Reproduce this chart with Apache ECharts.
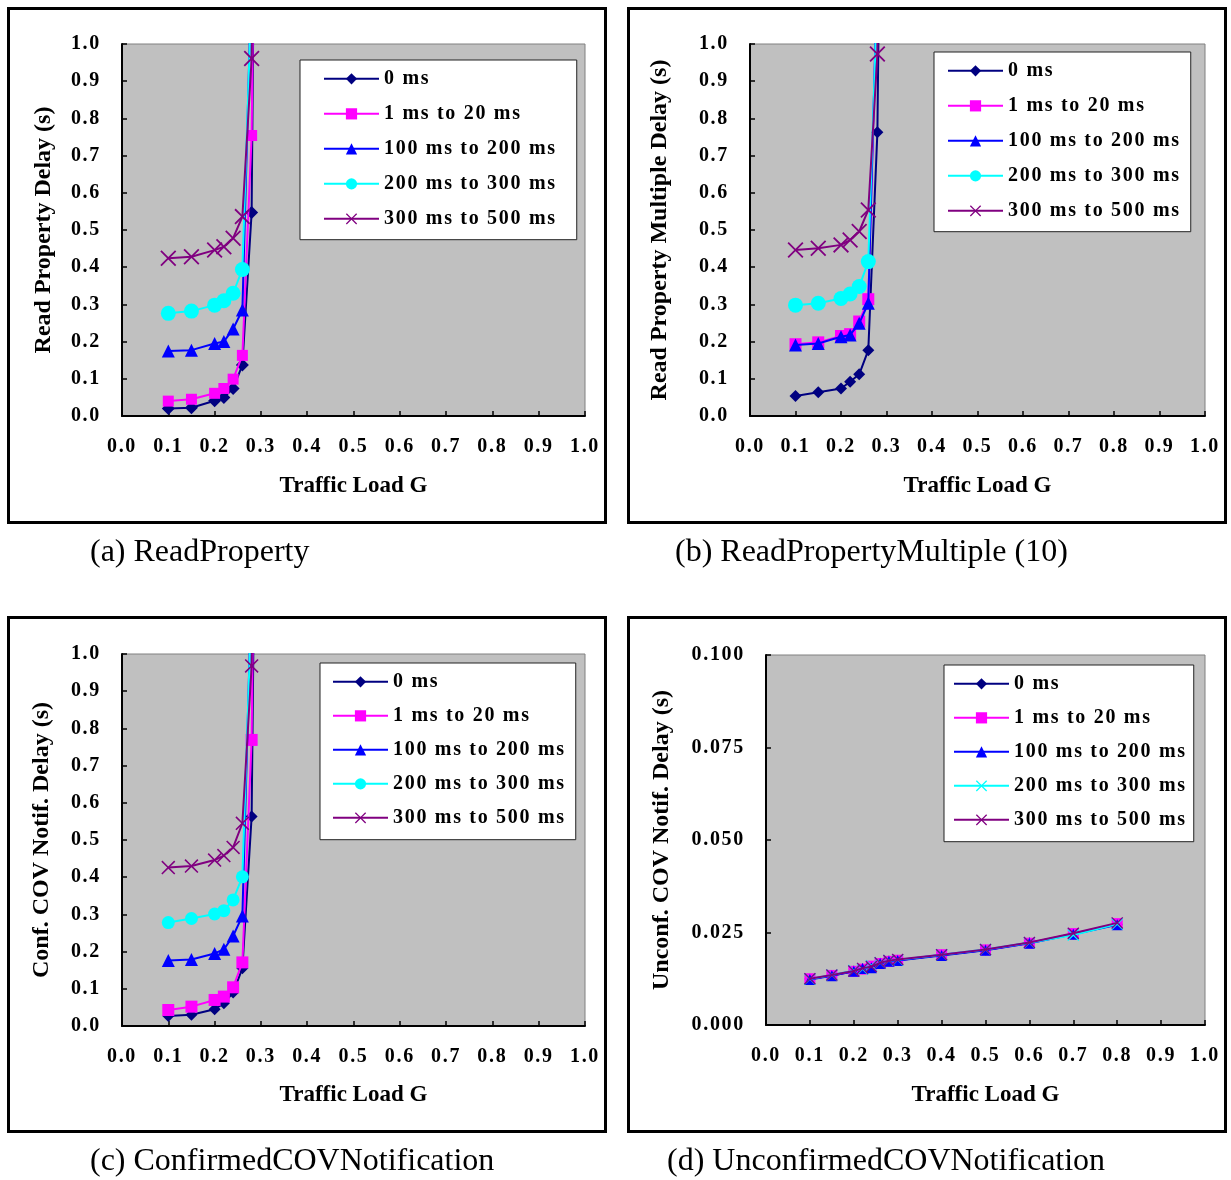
<!DOCTYPE html>
<html><head><meta charset="utf-8">
<script src="https://cdn.jsdelivr.net/npm/echarts@6/dist/echarts.min.js"></script>
<style>html,body{margin:0;padding:0;background:#fff}#c{width:1231px;height:1180px}</style>
</head><body><div id="c"></div>
<script>
// ---------- data ----------
const seriesNames = ['0 ms', '1 ms to 20 ms', '100 ms to 200 ms', '200 ms to 300 ms', '300 ms to 500 ms'];
const loadG = [0.10, 0.15, 0.20, 0.22, 0.24, 0.26, 0.28, 0.30];
const loadGUnconf = [0.10, 0.15, 0.20, 0.22, 0.24, 0.26, 0.28, 0.30, 0.40, 0.50, 0.60, 0.70, 0.80];

// (a) ReadProperty
const rp0 = [0.020, 0.022, 0.041, 0.050, 0.074, 0.137, 0.547, 3.5];
const rp1to20 = [0.040, 0.045, 0.061, 0.074, 0.099, 0.163, 0.754, 3.0];
const rp100to200 = [0.175, 0.177, 0.195, 0.200, 0.234, 0.285, 1.2];
const rp200to300 = [0.276, 0.282, 0.298, 0.310, 0.330, 0.394, 1.15];
const rp300to500 = [0.424, 0.428, 0.446, 0.455, 0.478, 0.536, 0.961, 3.0];

// (b) ReadPropertyMultiple (10)
const rpm0 = [0.054, 0.064, 0.074, 0.092, 0.112, 0.177, 0.763, 3.0];
const rpm1to20 = [0.193, 0.198, 0.215, 0.220, 0.254, 0.314, 1.2];
const rpm100to200 = [0.191, 0.195, 0.213, 0.218, 0.249, 0.303, 1.2];
const rpm200to300 = [0.298, 0.303, 0.316, 0.328, 0.348, 0.415, 1.15];
const rpm300to500 = [0.446, 0.451, 0.460, 0.473, 0.496, 0.554, 0.973, 3.0];

// (c) ConfirmedCOVNotification
const cc0 = [0.027, 0.030, 0.045, 0.061, 0.090, 0.155, 0.563, 3.0];
const cc1to20 = [0.043, 0.052, 0.070, 0.079, 0.104, 0.171, 0.769, 3.0];
const cc100to200 = [0.176, 0.179, 0.195, 0.206, 0.242, 0.296, 1.2];
const cc200to300 = [0.278, 0.289, 0.301, 0.310, 0.339, 0.401, 1.15];
const cc300to500 = [0.426, 0.430, 0.446, 0.458, 0.480, 0.545, 0.968, 3.0];

// (d) UnconfirmedCOVNotification
const uc0 = [0.0124, 0.0134, 0.0146, 0.0152, 0.0158, 0.0167, 0.0173, 0.0175, 0.0189, 0.0203, 0.0222, 0.0246, 0.0272];
const uc1to20 = [0.0125, 0.0134, 0.0145, 0.0151, 0.0159, 0.0166, 0.0172, 0.0175, 0.0190, 0.0203, 0.0221, 0.0247, 0.0274];
const uc100to200 = [0.0123, 0.0133, 0.0145, 0.0153, 0.0155, 0.0166, 0.0172, 0.0174, 0.0188, 0.0202, 0.0221, 0.0245, 0.0271];
const uc200to300 = [0.0124, 0.0135, 0.0147, 0.0151, 0.0160, 0.0168, 0.0174, 0.0176, 0.0190, 0.0204, 0.0222, 0.0243, 0.0273];
const uc300to500 = [0.0125, 0.0135, 0.0146, 0.0153, 0.0158, 0.0168, 0.0174, 0.0177, 0.0190, 0.0204, 0.0223, 0.0248, 0.0276];

const yTitles = ['Read Property Delay (s)', 'Read Property Multiple Delay (s)', 'Conf. COV Notif. Delay (s)', 'Unconf. COV Notif. Delay (s)'];
const xTitle = 'Traffic Load G';
const captions = ['(a) ReadProperty', '(b) ReadPropertyMultiple (10)', '(c) ConfirmedCOVNotification', '(d) UnconfirmedCOVNotification'];

// ---------- text rendering: slightly spaced bold labels (like the original) ----------
(function () {
  const proto = CanvasRenderingContext2D.prototype;
  const desc = Object.getOwnPropertyDescriptor(proto, 'font');
  if (!desc || !('letterSpacing' in proto)) return;
  Object.defineProperty(proto, 'font', {
    configurable: true,
    get() { return desc.get.call(this); },
    set(v) {
      desc.set.call(this, v);
      this.letterSpacing = /bold 20px/.test(String(v)) ? '1.7px' : '0px';
    }
  });
})();

// ---------- styling ----------
const FONT = '"Liberation Serif", "Times New Roman", serif';
const colors = ['#000080', '#FF00FF', '#0000FF', '#00FFFF', '#800080'];
const XSYM = 'path://M0,8L8,0L50,42L92,0L100,8L58,50L100,92L92,100L50,58L8,100L0,92L42,50Z';

const panels = [
  { key: 'a', xs: loadG, ys: [rp0, rp1to20, rp100to200, rp200to300, rp300to500],
    grid: { left: 122, top: 44, width: 463, height: 372 }, yMax: 1, yInt: 0.1, yDec: 1, yGap: 66, xGap: 59,
    symbols: ['diamond', 'rect', 'triangle', 'circle', XSYM], sizes: [13, 11, 13, 15, 16],
    legend: { left: 300, top: 60, padding: [8, 20, 10, 23], itemGap: 13.3 } },
  { key: 'b', xs: loadG, ys: [rpm0, rpm1to20, rpm100to200, rpm200to300, rpm300to500],
    grid: { left: 750, top: 44, width: 455, height: 372 }, yMax: 1, yInt: 0.1, yDec: 1, yGap: 78, xGap: 59,
    symbols: ['diamond', 'rect', 'triangle', 'circle', XSYM], sizes: [12, 12, 13, 15, 16],
    legend: { left: 934, top: 52, padding: [8, 10, 10, 13], itemGap: 13.3 } },
  { key: 'c', xs: loadG, ys: [cc0, cc1to20, cc100to200, cc200to300, cc300to500],
    grid: { left: 122, top: 654, width: 463, height: 372 }, yMax: 1, yInt: 0.1, yDec: 1, yGap: 68, xGap: 58,
    symbols: ['diamond', 'rect', 'triangle', 'circle', XSYM], sizes: [12, 12, 13, 13, 14],
    legend: { left: 320, top: 663, padding: [8, 10, 11, 12], itemGap: 12.3 } },
  { key: 'd', xs: loadGUnconf, ys: [uc0, uc1to20, uc100to200, uc200to300, uc300to500],
    grid: { left: 766, top: 655, width: 439, height: 370 }, yMax: 0.1, yInt: 0.025, yDec: 3, yGap: 92, xGap: 59,
    symbols: ['diamond', 'rect', 'triangle', XSYM, XSYM], sizes: [11, 11, 11, 12, 12],
    legend: { left: 944, top: 665, padding: [8, 7, 11, 9], itemGap: 12.3 } }
];

const grids = [], xAxes = [], yAxes = [], series = [], legends = [];
panels.forEach((p, g) => {
  grids.push(Object.assign({ show: true, backgroundColor: '#C0C0C0', borderColor: '#808080', borderWidth: 1 }, p.grid));
  xAxes.push({
    gridIndex: g, type: 'value', min: 0, max: 1, interval: 0.1,
    name: xTitle, nameLocation: 'middle', nameGap: p.xGap,
    nameTextStyle: { fontFamily: FONT, fontWeight: 'bold', fontSize: 23, color: '#000' },
    axisLine: { onZero: false, lineStyle: { color: '#000', width: 2 } },
    axisTick: { inside: true, length: 5, lineStyle: { color: '#000', width: 1.5 } },
    axisLabel: { margin: 20, fontFamily: FONT, fontWeight: 'bold', fontSize: 20, color: '#000', formatter: v => v.toFixed(1) },
    splitLine: { show: false }
  });
  yAxes.push({
    gridIndex: g, type: 'value', min: 0, max: p.yMax, interval: p.yInt,
    name: yTitles[g], nameLocation: 'middle', nameGap: p.yGap,
    nameTextStyle: { fontFamily: FONT, fontWeight: 'bold', fontSize: 24, color: '#000' },
    axisLine: { show: true, onZero: false, lineStyle: { color: '#000', width: 2 } },
    axisTick: { show: true, inside: true, length: 5, lineStyle: { color: '#000', width: 1.5 } },
    axisLabel: { margin: 21, fontFamily: FONT, fontWeight: 'bold', fontSize: 20, color: '#000', formatter: v => v.toFixed(p.yDec) },
    splitLine: { show: false }
  });
  const names = [];
  p.ys.forEach((ys, i) => {
    const nm = p.key + '|' + seriesNames[i];
    names.push(nm);
    series.push({
      name: nm, type: 'line', xAxisIndex: g, yAxisIndex: g,
      data: ys.map((y, j) => [p.xs[j], y]),
      symbol: p.symbols[i], symbolSize: p.sizes[i], showSymbol: true,
      lineStyle: { color: colors[i], width: 2 },
      itemStyle: { color: colors[i] },
      clip: true, animation: false, z: 2 + i
    });
  });
  legends.push({
    orient: 'vertical', left: p.legend.left, top: p.legend.top, padding: p.legend.padding,
    itemGap: p.legend.itemGap, itemWidth: 55, itemHeight: 14,
    data: names, formatter: n => n.split('|')[1], selectedMode: false,
    backgroundColor: '#fff', borderColor: '#222', borderWidth: 1,
    textStyle: { fontFamily: FONT, fontWeight: 'bold', fontSize: 20, color: '#000' }
  });
});

const borders = [[8.5, 8.5], [628.5, 8.5], [8.5, 617.5], [628.5, 617.5]];
const capPos = [[90, 553], [675, 553], [90, 1162], [667, 1162]];
const graphics = [];
borders.forEach(b => graphics.push({ type: 'rect', shape: { x: b[0], y: b[1], width: 597, height: 514 }, style: { fill: null, stroke: '#000', lineWidth: 3 }, z: 0 }));
captions.forEach((c, i) => graphics.push({ type: 'text', x: capPos[i][0], y: capPos[i][1], style: { text: c, font: '32px ' + FONT, fill: '#000', verticalAlign: 'middle' } }));

const chart = echarts.init(document.getElementById('c'), null, { renderer: 'canvas' });
chart.setOption({
  animation: false, backgroundColor: '#fff',
  grid: grids, xAxis: xAxes, yAxis: yAxes, series: series, legend: legends, graphic: graphics
});
</script></body></html>
